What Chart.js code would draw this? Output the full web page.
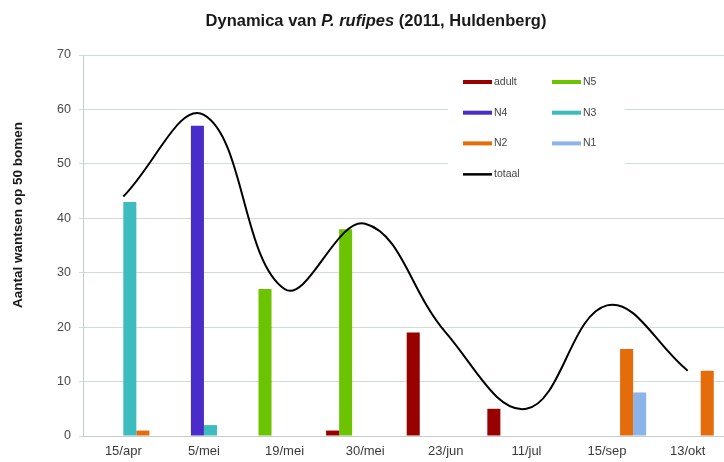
<!DOCTYPE html>
<html>
<head>
<meta charset="utf-8">
<script src="https://cdn.jsdelivr.net/npm/chart.js@4/dist/chart.umd.min.js"></script>
<style>
    html, body { margin: 0; padding: 0; background: #fff; overflow: hidden; }
    #wrap { width: 738px; height: 462px; }
</style>
</head>
<body>
<div id="wrap"><canvas id="dynChart" width="738" height="462"></canvas></div>
<script>
// Data
const categories = ['15/apr', '5/mei', '19/mei', '30/mei', '23/jun', '11/jul', '15/sep', '13/okt'];
const adult  = [null, null, null, 1, 19, 5, null, null];
const n5     = [null, null, 27, 38, null, null, null, null];
const n4     = [null, 57, null, null, null, null, null, null];
const n3     = [43, 2, null, null, null, null, null, null];
const n2     = [1, null, null, null, null, null, 16, 12];
const n1     = [null, null, null, null, null, null, 8, null];
const totaal = [44, 59, 27, 39, 19, 5, 24, 12];
const yMin = 0, yMax = 70, yStep = 10;
const yTitle = 'Aantal wantsen op 50 bomen';

const FONT = "'Liberation Sans', Arial, sans-serif";

// Title with italic species name
const titlePlugin = {
    id: 'mixedTitle',
    afterDraw(chart) {
        const ctx = chart.ctx;
        const parts = [
            { text: 'Dynamica van ', font: 'bold 16.5px ' + FONT },
            { text: 'P. rufipes', font: 'italic bold 16.5px ' + FONT },
            { text: ' (2011, Huldenberg)', font: 'bold 16.5px ' + FONT }
        ];
        ctx.save();
        ctx.fillStyle = '#1a1a1a';
        ctx.textBaseline = 'middle';
        let total = 0;
        parts.forEach(p => { ctx.font = p.font; p.w = ctx.measureText(p.text).width; total += p.w; });
        let x = chart.width / 2 + 7 - total / 2;
        parts.forEach(p => {
            ctx.font = p.font;
            ctx.fillText(p.text, x, 21);
            x += p.w;
        });

        // vertical axis title, sits a bit above the middle of the plot
        const area = chart.chartArea;
        ctx.translate(18, area.top + 160);
        ctx.rotate(-Math.PI / 2);
        ctx.font = 'bold 13.5px ' + FONT;
        ctx.textAlign = 'center';
        ctx.fillText(yTitle, 0, 0);
        ctx.restore();
    }
};

// Legend drawn inside the plot area, two columns
const boxLegend = {
    id: 'boxLegend',
    afterDraw(chart) {
        const ctx = chart.ctx;
        const area = chart.chartArea;
        const left = area.left + 365;
        const top = area.top + 11;
        const w = 177, h = 124;
        ctx.save();
        ctx.fillStyle = '#fff';
        ctx.fillRect(left, top, w, h);
        ctx.font = '10.5px ' + FONT;
        ctx.textBaseline = 'middle';
        chart.data.datasets.forEach((ds, i) => {
            const col = i % 2;
            const row = Math.floor(i / 2);
            const x = left + 15 + col * 89;
            const y = top + 16 + row * 30.7;
            ctx.fillStyle = ds.legendColor;
            if (ds.type === 'line') {
                ctx.fillRect(x, y - 1, 29, 2.5);
            } else {
                ctx.fillRect(x, y - 2, 29, 4);
            }
            ctx.fillStyle = '#444';
            ctx.fillText(ds.label, x + 31, y);
        });
        ctx.restore();
    }
};

function barSet(label, data, color) {
    return {
        type: 'bar',
        label: label,
        data: data,
        backgroundColor: color,
        legendColor: color,
        borderWidth: 0,
        order: 1
    };
}

const datasets = [
    barSet('adult', adult, '#990000'),
    barSet('N5', n5, '#6cc400'),
    barSet('N4', n4, '#4a2ccb'),
    barSet('N3', n3, '#3cbcbf'),
    barSet('N2', n2, '#e46c0a'),
    barSet('N1', n1, '#8db4e8'),
    {
        type: 'line',
        label: 'totaal',
        data: totaal,
        borderColor: '#000',
        legendColor: '#000',
        borderWidth: 2,
        pointRadius: 0,
        tension: 0.4,
        fill: false,
        order: 0
    }
];

const ctx = document.getElementById('dynChart');
new Chart(ctx.getContext('2d'), {
    type: 'bar',
    data: { labels: categories, datasets: datasets },
    options: {
        responsive: false,
        animation: false,
        devicePixelRatio: 1,
        categoryPercentage: 0.97,
        barPercentage: 1,
        layout: { padding: { top: 55, right: 10, bottom: 0, left: 0 } },
        plugins: {
            legend: { display: false },
            title: { display: false },
            tooltip: { enabled: false }
        },
        scales: {
            x: {
                offset: true,
                grid: { display: false, drawTicks: false },
                border: { display: true, color: '#c4cccc', width: 1 },
                ticks: {
                    color: '#3a3a3a',
                    font: { family: FONT, size: 13 },
                    padding: 8,
                    maxRotation: 0
                },
                afterFit(scale) { scale.height = 26; }
            },
            y: {
                min: yMin,
                max: yMax,
                ticks: {
                    stepSize: yStep,
                    color: '#4a4a4a',
                    font: { family: FONT, size: 12.5 },
                    padding: 8
                },
                grid: { color: '#d3dada', lineWidth: 1, tickLength: 4 },
                border: { display: true, color: '#c4cccc', width: 1 },
                afterFit(scale) { scale.width = 83; }
            }
        }
    },
    plugins: [titlePlugin, boxLegend]
});
</script>
</body>
</html>
